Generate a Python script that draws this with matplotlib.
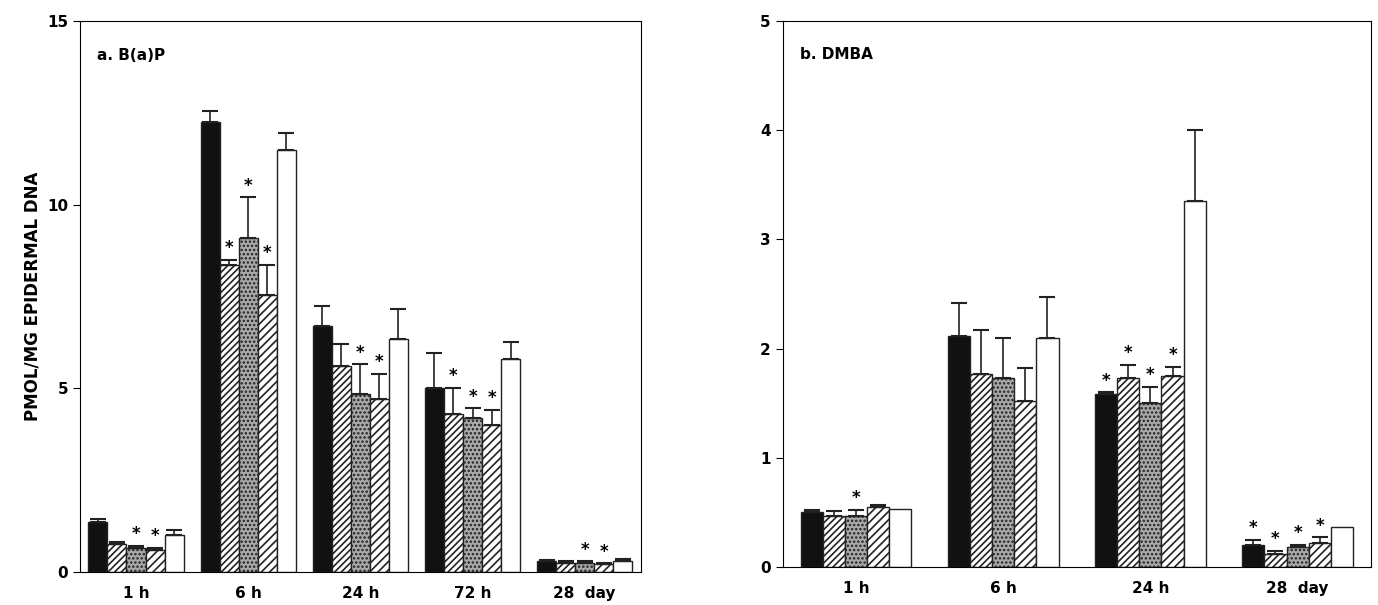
import numpy as np
import matplotlib.pyplot as plt

plt.rcParams['hatch.linewidth'] = 1.2

groups_a = ["1 h", "6 h", "24 h", "72 h", "28  day"]
vals_a = [[1.35, 0.75, 0.65, 0.6, 1.0],
          [12.25, 8.35, 9.1, 7.55, 11.5],
          [6.7, 5.6, 4.85, 4.7, 6.35],
          [5.0, 4.3, 4.2, 4.0, 5.8],
          [0.3, 0.25, 0.25, 0.2, 0.3]]
errs_a = [[0.1, 0.05, 0.05, 0.05, 0.15],
          [0.3, 0.15, 1.1, 0.8, 0.45],
          [0.55, 0.6, 0.8, 0.7, 0.8],
          [0.95, 0.7, 0.25, 0.4, 0.45],
          [0.03, 0.03, 0.03, 0.03, 0.05]]
star_a = [[0, 0, 1, 1, 0],
          [0, 1, 1, 1, 0],
          [0, 0, 1, 1, 0],
          [0, 1, 1, 1, 0],
          [0, 0, 1, 1, 0]]

groups_b = ["1 h", "6 h", "24 h", "28  day"]
vals_b = [[0.5, 0.47, 0.47, 0.55, 0.53],
          [2.12, 1.77, 1.73, 1.52, 2.1],
          [1.58, 1.73, 1.5, 1.75, 3.35],
          [0.2, 0.12, 0.18, 0.22, 0.37]]
errs_b = [[0.02, 0.04, 0.05, 0.02, 0.0],
          [0.3, 0.4, 0.37, 0.3, 0.37],
          [0.02, 0.12, 0.15, 0.08, 0.65],
          [0.05, 0.03, 0.02, 0.05, 0.0]]
star_b = [[0, 0, 1, 0, 0],
          [0, 0, 0, 0, 0],
          [1, 1, 1, 1, 0],
          [1, 1, 1, 1, 0]]

styles = [dict(color='#111111', hatch=None),
          dict(color='white', hatch='/////'),
          dict(color='#aaaaaa', hatch='....'),
          dict(color='white', hatch='////'),
          dict(color='white', hatch=None)]


def panel(ax, groups, vals, errs, stars, ymax, step, title, w):
    for g in range(len(groups)):
        for i in range(5):
            x = g + (i - 2) * w
            st = styles[i]
            ax.bar(x, vals[g][i], w, color=st['color'], hatch=st['hatch'],
                   edgecolor='#222222', linewidth=1)
            if errs[g][i] > 0:
                ax.errorbar(x, vals[g][i], yerr=[[0], [errs[g][i]]], color='#222222',
                            capsize=6, elinewidth=1.2, capthick=1.5)
            if stars[g][i]:
                ax.text(x, vals[g][i] + errs[g][i] + ymax * 0.005, '*', ha='center',
                        va='bottom', fontsize=12, fontweight='bold')
    ax.set_xticks(range(len(groups)))
    ax.set_xticklabels(groups, fontweight='bold', fontsize=11)
    ax.set_ylim(0, ymax)
    ax.set_xlim(-0.5, len(groups) - 0.5)
    ticks = np.arange(0, ymax + 0.1, step)
    ax.set_yticks(ticks)
    ax.set_yticklabels([str(int(t)) for t in ticks], fontweight='bold', fontsize=11)
    ax.tick_params(axis='x', length=0, pad=10)
    ax.tick_params(axis='y', direction='out', length=5)
    ax.text(0.03, 0.93, title, transform=ax.transAxes, fontweight='bold', fontsize=11)


fig, (ax1, ax2) = plt.subplots(1, 2, figsize=(13.78, 6.05), dpi=100)
panel(ax1, groups_a, vals_a, errs_a, star_a, 15, 5, "a. B(a)P", 0.17)
panel(ax2, groups_b, vals_b, errs_b, star_b, 5, 1, "b. DMBA", 0.15)
ax1.set_ylabel("PMOL/MG EPIDERMAL DNA", fontweight='bold', fontsize=12)
ax1.set_position([0.058, 0.055, 0.407, 0.91])
ax2.set_position([0.568, 0.063, 0.427, 0.902])
plt.savefig("out.png")
